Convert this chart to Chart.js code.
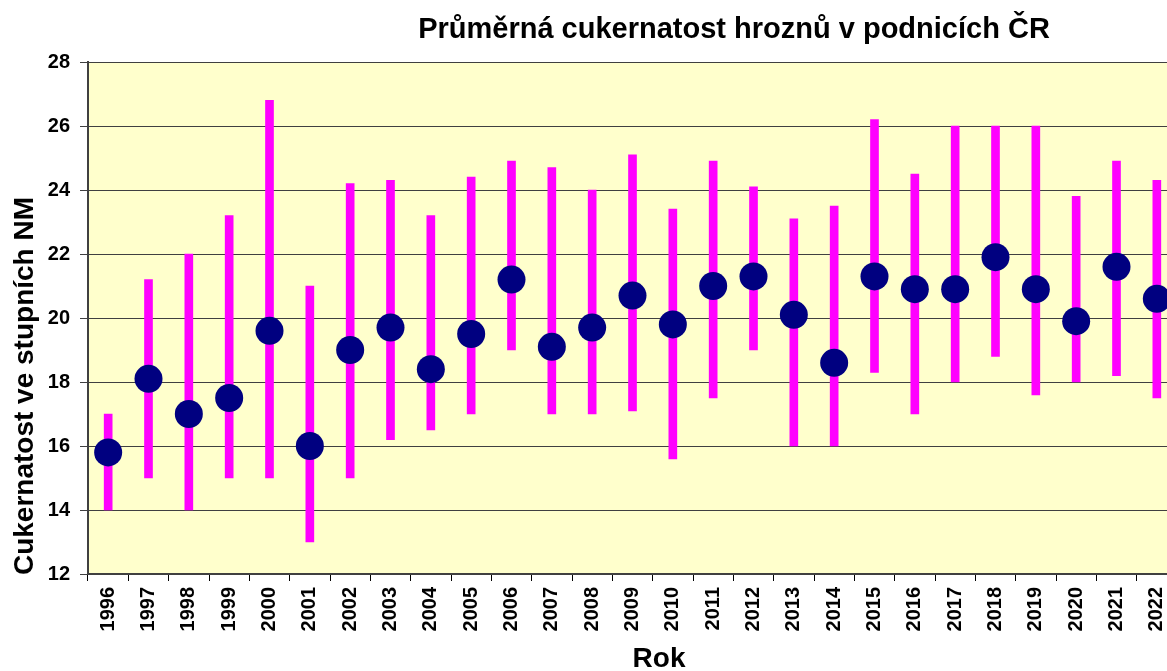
<!DOCTYPE html>
<html>
<head>
<meta charset="utf-8">
<script src="https://cdn.jsdelivr.net/npm/chart.js@4.4.1/dist/chart.umd.min.js"></script>
<style>
  html, body { margin: 0; padding: 0; background: #fff; overflow: hidden; }
  #wrap { width: 1191px; height: 671px; }
</style>
</head>
<body>
<div id="wrap"><canvas id="sugarChart" width="1191" height="671"></canvas></div>
<script>
const years = ['1996','1997','1998','1999','2000','2001','2002','2003','2004','2005','2006','2007','2008','2009',
               '2010','2011','2012','2013','2014','2015','2016','2017','2018','2019','2020','2021','2022'];
const meanSugar = [15.8, 18.1, 17.0, 17.5, 19.6, 16.0, 19.0, 19.7, 18.4, 19.5, 21.2, 19.1, 19.7, 20.7,
                   19.8, 21.0, 21.3, 20.1, 18.6, 21.3, 20.9, 20.9, 21.9, 20.9, 19.9, 21.6, 20.6];
const minSugar = [14.0, 15.0, 14.0, 15.0, 15.0, 13.0, 15.0, 16.2, 16.5, 17.0, 19.0, 17.0, 17.0, 17.1,
                  15.6, 17.5, 19.0, 16.0, 16.0, 18.3, 17.0, 18.0, 18.8, 17.6, 18.0, 18.2, 17.5];
const maxSugar = [17.0, 21.2, 22.0, 23.2, 26.8, 21.0, 24.2, 24.3, 23.2, 24.4, 24.9, 24.7, 24.0, 25.1,
                  23.4, 24.9, 24.1, 23.1, 23.5, 26.2, 24.5, 26.0, 26.0, 26.0, 23.8, 24.9, 24.3];

const rangeData = minSugar.map((lo, i) => [lo, maxSugar[i]]);

const font = 'Liberation Sans';

const plotBackground = {
    id: 'plotBackground',
    beforeDraw(chart) {
        const { ctx, chartArea: a } = chart;
        ctx.save();
        ctx.fillStyle = '#FFFFCC';
        ctx.fillRect(a.left, a.top, a.right - a.left, a.bottom - a.top);
        ctx.restore();
    }
};

// titles sit off-centre in the original, so draw them by hand
const chartTexts = {
    id: 'chartTexts',
    afterDraw(chart) {
        const ctx = chart.ctx;
        ctx.save();
        ctx.fillStyle = '#000';
        ctx.textAlign = 'center';
        ctx.textBaseline = 'middle';
        ctx.font = 'bold 29px "' + font + '", Arial, sans-serif';
        ctx.fillText('Průměrná cukernatost hroznů v podnicích ČR', 734, 30);
        ctx.font = 'bold 28px "' + font + '", Arial, sans-serif';
        ctx.fillText('Rok', 659, 659);
        ctx.translate(25, 386);
        ctx.rotate(-Math.PI / 2);
        ctx.fillText('Cukernatost ve stupních NM', 0, 0);
        ctx.restore();
    }
};

new Chart(document.getElementById('sugarChart'), {
    type: 'bar',
    data: {
        labels: years,
        datasets: [
            {
                type: 'line',
                label: 'Průměr',
                data: meanSugar,
                showLine: false,
                pointRadius: 14,
                pointHoverRadius: 14,
                pointBackgroundColor: '#000080',
                pointBorderColor: '#000080',
                pointBorderWidth: 0,
                order: 0
            },
            {
                label: 'Rozpětí',
                data: rangeData,
                backgroundColor: '#FF00FF',
                borderWidth: 0,
                barThickness: 8,
                order: 1
            }
        ]
    },
    options: {
        responsive: false,
        animation: false,
        layout: { padding: { top: 62, right: 0, left: 0, bottom: 0 } },
        plugins: {
            legend: { display: false },
            tooltip: { enabled: false }
        },
        scales: {
            x: {
                offset: true,
                grid: {
                    offset: true,
                    drawOnChartArea: false,
                    drawTicks: true,
                    tickLength: 7,
                    color: '#000'
                },
                border: { color: '#404040', width: 2 },
                ticks: {
                    minRotation: 90,
                    maxRotation: 90,
                    autoSkip: false,
                    color: '#000',
                    padding: 6,
                    font: { family: font, weight: 'bold', size: 20 }
                },
                afterFit(scale) { scale.height = 97; }
            },
            y: {
                min: 12,
                max: 28,
                ticks: {
                    stepSize: 2,
                    color: '#000',
                    padding: 10,
                    font: { family: font, weight: 'bold', size: 20 }
                },
                grid: {
                    color: '#404040',
                    lineWidth: 1,
                    tickLength: 8
                },
                border: { color: '#404040', width: 2 },
                afterFit(scale) { scale.width = 88; }
            }
        }
    },
    plugins: [plotBackground, chartTexts]
});
</script>
</body>
</html>
